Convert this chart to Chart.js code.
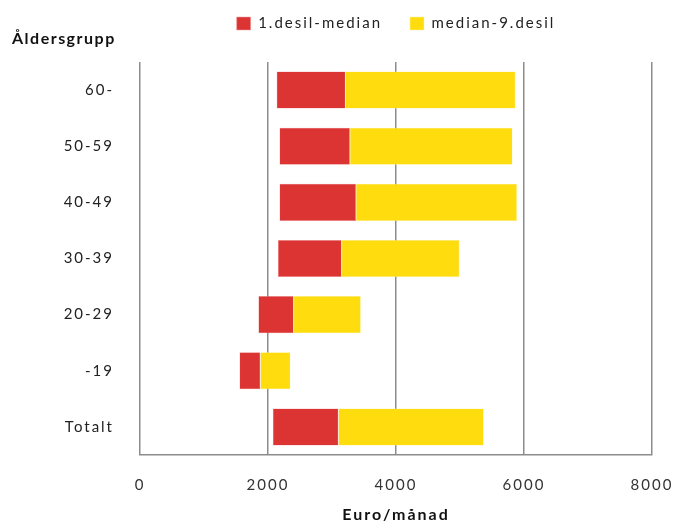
<!DOCTYPE html>
<html>
<head>
<meta charset="utf-8">
<script src="https://cdn.jsdelivr.net/npm/chart.js@4"></script>
<style>
  body { margin: 0; background: #fff; }
  #wrap { width: 677px; height: 525px; }
</style>
</head>
<body>
<div id="wrap"><canvas id="chart"></canvas></div>
<script>
const categories = ["60-", "50-59", "40-49", "30-39", "20-29", "-19", "Totalt"];
const decile1 = [2135, 2180, 2180, 2155, 1850, 1555, 2075];
const median = [3210, 3280, 3375, 3150, 2400, 1880, 3100];
const decile9 = [5865, 5820, 5890, 4990, 3450, 2350, 5370];
const xTicks = [0, 2000, 4000, 6000, 8000];

const font = "Lato, 'Open Sans', sans-serif";

const lowPart = categories.map((c, i) => [decile1[i], median[i]]);
const highPart = categories.map((c, i) => [median[i], decile9[i]]);

// reference text is spaced out a bit, heading sits under the legend
const spacingPlugin = {
    id: "spacing",
    beforeInit(chart) {
        const legend = chart.legend;
        const fit = legend.fit;
        legend.fit = function () {
            fit.call(this);
            this.height = 74;
        };
    },
    beforeLayout(chart) { chart.ctx.letterSpacing = "2px"; },
    beforeDraw(chart) { chart.ctx.letterSpacing = "2px"; },
    afterDraw(chart) {
        const ctx = chart.ctx;
        ctx.save();
        ctx.letterSpacing = "1.5px";
        ctx.font = "bold 16px " + font;
        ctx.fillStyle = "#111";
        ctx.textBaseline = "middle";
        ctx.fillText("Åldersgrupp", 12, 39);
        ctx.restore();
    }
};

new Chart(document.getElementById("chart"), {
    type: "bar",
    data: {
        labels: categories,
        datasets: [
            {
                label: "1.desil-median",
                data: lowPart,
                backgroundColor: "#dc3333",
                borderColor: "#f0a0a0",
                borderWidth: 0.5,
                borderSkipped: false,
                categoryPercentage: 0.66,
                barPercentage: 1
            },
            {
                label: "median-9.desil",
                data: highPart,
                backgroundColor: "#ffdc0d",
                borderColor: "#fff0a0",
                borderWidth: 0.5,
                borderSkipped: false,
                categoryPercentage: 0.66,
                barPercentage: 1
            }
        ]
    },
    options: {
        indexAxis: "y",
        responsive: true,
        maintainAspectRatio: false,
        animation: false,
        layout: { padding: { left: 0, right: 25, top: -12, bottom: 0 } },
        plugins: {
            tooltip: { enabled: false },
            legend: {
                fullSize: false,
                labels: {
                    font: { family: font, size: 15 },
                    color: "#222",
                    boxWidth: 14,
                    boxHeight: 13,
                    padding: 28
                }
            }
        },
        scales: {
            x: {
                min: 0,
                max: 8000,
                afterBuildTicks(scale) {
                    scale.ticks = xTicks.map(v => ({ value: v }));
                },
                afterFit(scale) {
                    scale.paddingLeft = 0;
                    scale.paddingRight = 0;
                    scale.height = 70;
                },
                grid: { color: "#8c8c8c", lineWidth: 1.5, drawTicks: false },
                border: { color: "#8c8c8c", width: 1.5 },
                ticks: {
                    font: { family: font, size: 15 },
                    color: "#333",
                    padding: 21,
                    callback: v => String(v)
                },
                title: {
                    display: true,
                    text: "Euro/månad",
                    font: { family: font, size: 16, weight: "bold" },
                    color: "#111",
                    padding: { top: 0, bottom: 1 }
                }
            },
            y: {
                stacked: true,
                grid: { display: false, drawTicks: false },
                border: { display: false },
                afterFit(scale) {
                    scale.width = 140;
                    scale.paddingTop = 0;
                    scale.paddingBottom = 0;
                },
                ticks: {
                    font: { family: font, size: 15 },
                    color: "#222",
                    padding: 26
                }
            }
        }
    },
    plugins: [spacingPlugin]
});
</script>
</body>
</html>
